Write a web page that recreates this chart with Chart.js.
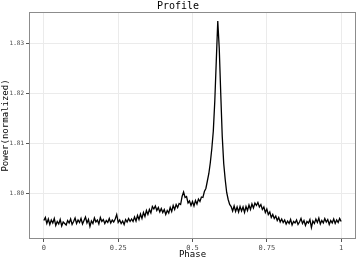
<!DOCTYPE html>
<html>
<head>
<meta charset="utf-8">
<script src="https://cdn.jsdelivr.net/npm/chart.js@4"></script>
<style>
  html, body { margin: 0; padding: 0; background: #fff; }
  #wrap { width: 357px; height: 260px; }
</style>
</head>
<body>
<div id="wrap"><canvas id="profile" width="357" height="260"></canvas></div>
<script>
// phase step of 0.005, 0 .. 1
const phaseStep = 0.005;
const power = [
  1.7946, 1.7952, 1.7940, 1.7949, 1.7938, 1.7947, 1.7941, 1.7950, 1.7936, 1.7944,
  1.7939, 1.7948, 1.7935, 1.7943, 1.7940, 1.7937, 1.7946, 1.7941, 1.7949, 1.7938,
  1.7944, 1.7951, 1.7940, 1.7947, 1.7942, 1.7950, 1.7939, 1.7946, 1.7953, 1.7941,
  1.7948, 1.7934, 1.7945, 1.7940, 1.7951, 1.7943, 1.7947, 1.7939, 1.7952, 1.7944,
  1.7948, 1.7940, 1.7946, 1.7942, 1.7950, 1.7941, 1.7947, 1.7943, 1.7949, 1.7958,
  1.7942, 1.7947, 1.7940, 1.7945, 1.7938, 1.7948, 1.7943, 1.7950, 1.7944, 1.7949,
  1.7944, 1.7953, 1.7945, 1.7956, 1.7948, 1.7959, 1.7950, 1.7962, 1.7954, 1.7966,
  1.7958, 1.7968, 1.7961, 1.7974, 1.7969, 1.7975, 1.7966, 1.7972, 1.7963, 1.7970,
  1.7962, 1.7968, 1.7958, 1.7966, 1.7961, 1.7972, 1.7964, 1.7976, 1.7968, 1.7978,
  1.7972, 1.7980, 1.7978, 1.7994, 1.8003, 1.7992, 1.7994, 1.7981, 1.7985, 1.7976,
  1.7984, 1.7975, 1.7986, 1.7979, 1.7989, 1.7984, 1.7993, 1.7992, 1.8004, 1.8010,
  1.8025, 1.8040, 1.8062, 1.8090, 1.8125, 1.8185, 1.8265, 1.8345, 1.8290, 1.8200,
  1.8115, 1.8060, 1.8028, 1.8002, 1.7988, 1.7978, 1.7974, 1.7965, 1.7975, 1.7964,
  1.7973, 1.7963, 1.7974, 1.7965, 1.7973, 1.7962, 1.7974, 1.7966, 1.7977, 1.7968,
  1.7979, 1.7971, 1.7981, 1.7976, 1.7982, 1.7973, 1.7978, 1.7968, 1.7973, 1.7962,
  1.7969, 1.7958, 1.7963, 1.7952, 1.7958, 1.7950, 1.7955, 1.7946, 1.7952, 1.7943,
  1.7949, 1.7942, 1.7947, 1.7939, 1.7945, 1.7940, 1.7948, 1.7937, 1.7944, 1.7941,
  1.7947, 1.7938, 1.7943, 1.7950, 1.7940, 1.7946, 1.7936, 1.7944, 1.7941, 1.7948,
  1.7932, 1.7945, 1.7940, 1.7949, 1.7942, 1.7951, 1.7939, 1.7946, 1.7941, 1.7950,
  1.7943, 1.7948, 1.7938, 1.7946, 1.7941, 1.7949, 1.7940, 1.7947, 1.7942, 1.7950,
  1.7944
];
const xTicks = [0, 0.25, 0.5, 0.75, 1];
const xTickLabels = ['0', '0.25', '0.5', '0.75', '1'];
const yTicks = [1.80, 1.81, 1.82, 1.83];
const yTickLabels = ['1.80', '1.81', '1.82', '1.83'];

const mono = 'DejaVu Sans Mono';
const points = power.map((v, i) => ({ x: i * phaseStep, y: v }));

// gray panel border like ggplot's theme_bw
const panelBorder = {
  id: 'panelBorder',
  afterDraw(chart) {
    const a = chart.chartArea, ctx = chart.ctx;
    ctx.save();
    ctx.strokeStyle = '#8c8c8c';
    ctx.lineWidth = 1;
    ctx.strokeRect(a.left + 0.5, a.top + 0.5, a.right - a.left - 1, a.bottom - a.top - 1);
    ctx.restore();
  }
};

new Chart(document.getElementById('profile'), {
  type: 'line',
  data: {
    datasets: [{
      data: points,
      borderColor: '#000',
      borderWidth: 1.3,
      pointRadius: 0,
      tension: 0,
      fill: false
    }]
  },
  options: {
    responsive: false,
    animation: false,
    events: [],
    layout: { padding: { left: 0, right: 1, top: 0, bottom: 0 } },
    plugins: {
      legend: { display: false },
      tooltip: { enabled: false },
      title: {
        display: true,
        text: 'Profile',
        color: '#000',
        font: { family: mono, size: 10, weight: 'normal' },
        padding: { top: 0, bottom: 0 }
      }
    },
    scales: {
      x: {
        type: 'linear',
        min: -0.05,
        max: 1.05,
        afterBuildTicks: s => { s.ticks = xTicks.map(v => ({ value: v })); },
        afterFit: s => { s.height = 21; },
        grid: { color: '#ebebeb', tickColor: '#555', tickLength: 3, lineWidth: 1 },
        border: { display: false },
        ticks: {
          color: '#4d4d4d',
          font: { family: mono, size: 7 },
          padding: 2,
          maxRotation: 0,
          callback: (v, i) => xTickLabels[i]
        },
        title: {
          display: true,
          text: 'Phase',
          color: '#000',
          font: { family: mono, size: 9 },
          padding: 0
        }
      },
      y: {
        type: 'linear',
        min: 1.7909,
        max: 1.8363,
        afterBuildTicks: s => { s.ticks = yTicks.map(v => ({ value: v })); },
        afterFit: s => { s.width = 29; },
        grid: { color: '#ebebeb', tickColor: '#555', tickLength: 3, lineWidth: 1 },
        border: { display: false },
        ticks: {
          color: '#4d4d4d',
          font: { family: mono, size: 6 },
          padding: 2,
          callback: (v, i) => yTickLabels[i]
        },
        title: {
          display: true,
          text: 'Power(normalized)',
          color: '#000',
          font: { family: mono, size: 9 },
          padding: 0
        }
      }
    }
  },
  plugins: [panelBorder]
});
</script>
</body>
</html>
